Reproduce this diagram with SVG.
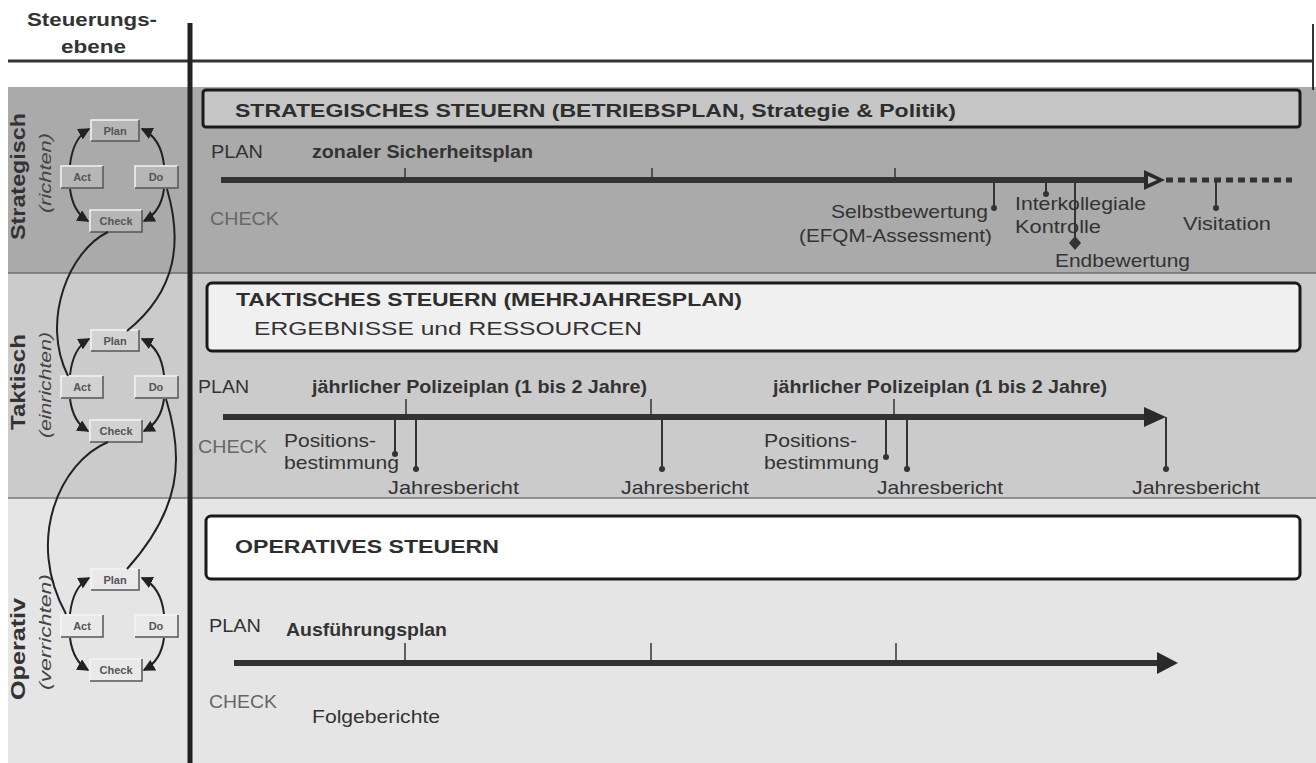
<svg xmlns="http://www.w3.org/2000/svg" width="1316" height="763" viewBox="0 0 1316 763">
<style>
text{font-family:"Liberation Sans",Arial,Helvetica,sans-serif;fill:#333}
.b{font-weight:bold}
.lb{font-size:19px}
.ti{font-size:19px;font-weight:bold;fill:#2e2e2e}
.ck{font-size:19px;fill:#666}
.sm{font-size:19px;fill:#333}
.rot{font-size:21px;font-weight:bold;fill:#333}
.it{font-size:16px;font-style:italic;fill:#444}
.bx{font-size:11px;font-weight:bold;fill:#555;text-anchor:middle}
.tl{stroke:#333;stroke-width:6;fill:none}
.tick{stroke:#333;stroke-width:1.5}
.drop{stroke:#333;stroke-width:2}
.arc{stroke:#222;stroke-width:2;fill:none}
.conn{stroke:#222;stroke-width:2;fill:none}
.bface{fill:#fff;fill-opacity:.15}
.bhi{stroke:#f4f4f4;stroke-width:1.5;fill:none}
.bsh{stroke:#555;stroke-width:1.5;fill:none}
</style>
<defs>
<marker id="ah" viewBox="0 0 8 8" refX="7" refY="4" markerWidth="6" markerHeight="6" orient="auto"><path d="M0,0 L8,4 L0,8 z" fill="#222"/></marker>
<g id="pdca">
<path class="arc" d="M70,165 Q73,138 89,129" marker-end="url(#ah)"/>
<path class="arc" d="M164,165 Q161,138 142,129" marker-end="url(#ah)"/>
<path class="arc" d="M164,189 Q161,212 144,221" marker-end="url(#ah)"/>
<path class="arc" d="M70,189 Q73,212 88,221" marker-end="url(#ah)"/>
<g><rect class="bface" x="91" y="120" width="48" height="21"/><path class="bhi" d="M91,141 V120 H139"/><path class="bsh" d="M139,120 V141 H91"/><text class="bx" x="115" y="135">Plan</text></g>
<g><rect class="bface" x="61" y="166" width="42" height="22"/><path class="bhi" d="M61,188 V166 H103"/><path class="bsh" d="M103,166 V188 H61"/><text class="bx" x="82" y="181">Act</text></g>
<g><rect class="bface" x="135" y="166" width="43" height="22"/><path class="bhi" d="M135,188 V166 H178"/><path class="bsh" d="M178,166 V188 H135"/><text class="bx" x="156" y="181">Do</text></g>
<g><rect class="bface" x="90" y="210" width="52" height="22"/><path class="bhi" d="M90,232 V210 H142"/><path class="bsh" d="M142,210 V232 H90"/><text class="bx" x="116" y="225">Check</text></g>
</g>
</defs>

<rect width="1316" height="763" fill="#fff"/>

<g id="bands">
<rect x="8" y="87" width="1308" height="186" fill="#aaaaaa"/>
<rect x="8" y="273" width="1308" height="225" fill="#cbcbcb"/>
<rect x="8" y="498" width="1308" height="265" fill="#e5e5e5"/>
<line x1="8" y1="273" x2="1316" y2="273" stroke="#6e6e6e" stroke-width="1.5"/>
<line x1="8" y1="498" x2="1316" y2="498" stroke="#7a7a7a" stroke-width="1.5"/>
</g>

<g id="header">
<text class="b" x="27" y="26" font-size="18" textLength="130" lengthAdjust="spacingAndGlyphs" fill="#3a3a3a">Steuerungs-</text>
<text class="b" x="61" y="53" font-size="18" textLength="65" lengthAdjust="spacingAndGlyphs" fill="#3a3a3a">ebene</text>
<line x1="8" y1="61" x2="1313" y2="61" stroke="#333" stroke-width="3"/>
<line x1="190" y1="23" x2="190" y2="763" stroke="#222" stroke-width="5"/>
<line x1="1313" y1="24" x2="1313" y2="90" stroke="#333" stroke-width="2"/>
</g>

<g id="level-labels">
<text class="rot" transform="translate(25,240) rotate(-90)" textLength="127" lengthAdjust="spacingAndGlyphs">Strategisch</text>
<text class="it" transform="translate(51,213) rotate(-90)" textLength="80" lengthAdjust="spacingAndGlyphs">(richten)</text>
<text class="rot" transform="translate(25,430) rotate(-90)" textLength="96" lengthAdjust="spacingAndGlyphs">Taktisch</text>
<text class="it" transform="translate(51,438) rotate(-90)" textLength="106" lengthAdjust="spacingAndGlyphs">(einrichten)</text>
<text class="rot" transform="translate(25,700) rotate(-90)" textLength="102" lengthAdjust="spacingAndGlyphs">Operativ</text>
<text class="it" transform="translate(51,690) rotate(-90)" textLength="116" lengthAdjust="spacingAndGlyphs">(verrichten)</text>
</g>

<g id="cycle-strategisch"><use href="#pdca"/></g>
<g id="cycle-taktisch"><use href="#pdca" transform="translate(0,210)"/></g>
<g id="cycle-operativ"><use href="#pdca" transform="translate(0,449)"/></g>

<g id="connectors">
<path class="conn" d="M108,232 C70,250 40,320 68,376"/>
<path class="conn" d="M167,189 C182,240 178,290 127,331"/>
<path class="conn" d="M108,442 C60,462 25,540 66,614"/>
<path class="conn" d="M166,399 C185,460 180,510 127,569"/>
</g>

<g id="strategisch">
<rect x="203" y="90" width="1097" height="37" rx="3" fill="#c6c6c6" stroke="#1a1a1a" stroke-width="3"/>
<text class="ti" x="235" y="117" textLength="721" lengthAdjust="spacingAndGlyphs">STRATEGISCHES STEUERN (BETRIEBSPLAN, Strategie &amp; Politik)</text>
<text class="lb" x="211" y="158" textLength="52" lengthAdjust="spacingAndGlyphs">PLAN</text>
<text class="lb b" x="312" y="158" textLength="221" lengthAdjust="spacingAndGlyphs">zonaler Sicherheitsplan</text>
<text class="ck" x="210" y="225" textLength="69" lengthAdjust="spacingAndGlyphs">CHECK</text>
<line class="tl" x1="221" y1="180" x2="1146" y2="180"/>
<path d="M1144,170 L1165,180 L1144,190 z" fill="#2a2a2a"/>
<path d="M1148,176 L1157,180 L1148,184 z" fill="#bbb"/>
<line x1="1166" y1="180" x2="1292" y2="180" stroke="#333" stroke-width="5" stroke-dasharray="7 5"/>
<line class="tick" x1="405" y1="168" x2="405" y2="180"/>
<line class="tick" x1="652" y1="168" x2="652" y2="180"/>
<line class="tick" x1="895" y1="168" x2="895" y2="180"/>
<line class="drop" x1="994" y1="180" x2="994" y2="207"/><circle cx="994" cy="208" r="3" fill="#333"/>
<line class="drop" x1="1046" y1="180" x2="1046" y2="193"/><circle cx="1046" cy="194" r="3" fill="#333"/>
<line class="drop" x1="1075" y1="180" x2="1075" y2="240"/><path d="M1075,236 L1081,243 L1075,250 L1069,243 z" fill="#333"/>
<line class="drop" x1="1216" y1="180" x2="1216" y2="207"/><circle cx="1216" cy="208" r="3" fill="#333"/>
<text class="sm" x="831" y="218" textLength="157" lengthAdjust="spacingAndGlyphs">Selbstbewertung</text>
<text class="sm" x="799" y="242" textLength="193" lengthAdjust="spacingAndGlyphs">(EFQM-Assessment)</text>
<text class="sm" x="1015" y="210" textLength="131" lengthAdjust="spacingAndGlyphs">Interkollegiale</text>
<text class="sm" x="1015" y="233" textLength="86" lengthAdjust="spacingAndGlyphs">Kontrolle</text>
<text class="sm" x="1055" y="267" textLength="135" lengthAdjust="spacingAndGlyphs">Endbewertung</text>
<text class="sm" x="1183" y="230" textLength="88" lengthAdjust="spacingAndGlyphs">Visitation</text>
</g>

<g id="taktisch">
<rect x="207" y="283" width="1093" height="68" rx="5" fill="#f0f0f0" stroke="#1a1a1a" stroke-width="3"/>
<text class="ti" x="236" y="306" textLength="506" lengthAdjust="spacingAndGlyphs">TAKTISCHES STEUERN (MEHRJAHRESPLAN)</text>
<text class="lb" x="254" y="335" textLength="388" lengthAdjust="spacingAndGlyphs" fill="#555">ERGEBNISSE und RESSOURCEN</text>
<text class="lb" x="198" y="393" textLength="51" lengthAdjust="spacingAndGlyphs">PLAN</text>
<text class="lb b" x="312" y="393" textLength="335" lengthAdjust="spacingAndGlyphs">jährlicher Polizeiplan (1 bis 2 Jahre)</text>
<text class="lb b" x="773" y="393" textLength="334" lengthAdjust="spacingAndGlyphs">jährlicher Polizeiplan (1 bis 2 Jahre)</text>
<text class="ck" x="198" y="453" textLength="69" lengthAdjust="spacingAndGlyphs">CHECK</text>
<line class="tl" x1="223" y1="417" x2="1148" y2="417"/>
<path d="M1144,407 L1166,417 L1144,427 z" fill="#2a2a2a"/>
<line class="tick" x1="406" y1="399" x2="406" y2="417"/>
<line class="tick" x1="651" y1="399" x2="651" y2="417"/>
<line class="tick" x1="894" y1="399" x2="894" y2="417"/>
<line class="drop" x1="395" y1="417" x2="395" y2="453"/><circle cx="395" cy="454" r="3" fill="#333"/>
<line class="drop" x1="416" y1="417" x2="416" y2="468"/><circle cx="416" cy="469" r="3" fill="#333"/>
<line class="drop" x1="662" y1="417" x2="662" y2="468"/><circle cx="662" cy="469" r="3" fill="#333"/>
<line class="drop" x1="886" y1="417" x2="886" y2="456"/><circle cx="886" cy="457" r="3" fill="#333"/>
<line class="drop" x1="907" y1="417" x2="907" y2="468"/><circle cx="907" cy="469" r="3" fill="#333"/>
<line class="drop" x1="1166" y1="417" x2="1166" y2="468"/><circle cx="1166" cy="469" r="3" fill="#333"/>
<text class="sm" x="284" y="447" textLength="92" lengthAdjust="spacingAndGlyphs">Positions-</text>
<text class="sm" x="284" y="469" textLength="115" lengthAdjust="spacingAndGlyphs">bestimmung</text>
<text class="sm" x="764" y="447" textLength="93" lengthAdjust="spacingAndGlyphs">Positions-</text>
<text class="sm" x="764" y="469" textLength="115" lengthAdjust="spacingAndGlyphs">bestimmung</text>
<text class="sm" x="388" y="494" textLength="131" lengthAdjust="spacingAndGlyphs">Jahresbericht</text>
<text class="sm" x="621" y="494" textLength="128" lengthAdjust="spacingAndGlyphs">Jahresbericht</text>
<text class="sm" x="877" y="494" textLength="126" lengthAdjust="spacingAndGlyphs">Jahresbericht</text>
<text class="sm" x="1132" y="494" textLength="128" lengthAdjust="spacingAndGlyphs">Jahresbericht</text>
</g>

<g id="operativ">
<rect x="206" y="516" width="1094" height="63" rx="5" fill="#ffffff" stroke="#1a1a1a" stroke-width="3"/>
<text class="ti" x="235" y="553" textLength="264" lengthAdjust="spacingAndGlyphs">OPERATIVES STEUERN</text>
<text class="lb" x="209" y="632" textLength="52" lengthAdjust="spacingAndGlyphs">PLAN</text>
<text class="lb b" x="286" y="636" textLength="161" lengthAdjust="spacingAndGlyphs">Ausführungsplan</text>
<text class="ck" x="209" y="708" textLength="68" lengthAdjust="spacingAndGlyphs">CHECK</text>
<text class="sm" x="312" y="723" textLength="128" lengthAdjust="spacingAndGlyphs">Folgeberichte</text>
<line class="tl" x1="234" y1="663" x2="1160" y2="663"/>
<path d="M1157,652 L1178,663 L1157,674 z" fill="#2a2a2a"/>
<line class="tick" x1="405" y1="643" x2="405" y2="663"/>
<line class="tick" x1="651" y1="643" x2="651" y2="663"/>
<line class="tick" x1="896" y1="643" x2="896" y2="663"/>
</g>
</svg>
